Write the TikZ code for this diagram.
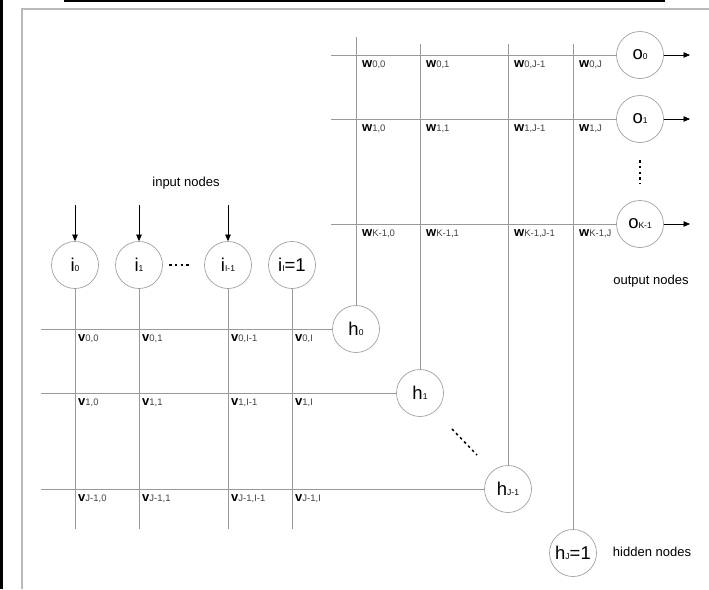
\documentclass[tikz,border=0pt]{standalone}
\usepackage{fontspec}
\setmainfont{Liberation Sans}
\usetikzlibrary{arrows.meta}
\newcommand{\sbx}[1]{{\fontsize{8.5}{8.5}\selectfont\mdseries #1}}
\newcommand{\wsb}[1]{{\fontsize{9.5}{9.5}\selectfont\mdseries\color{black!75}#1}}

\begin{document}
\begin{tikzpicture}[x=1pt, y=-1pt, >={Triangle[length=6.5pt,width=5.5pt]},
  unit/.style={circle, draw=gray!75, line width=0.7pt, minimum size=47pt,
               inner sep=0pt, font=\fontsize{18.5}{18.5}\selectfont},
  wire/.style={draw=gray!80, line width=0.7pt},
  feed/.style={->, draw=black, line width=0.6pt},
  dotln/.style={line width=1.5pt, dash pattern=on 2.6pt off 3.2pt},
  wt/.style={anchor=west, inner sep=0pt, font=\fontsize{13}{13}\selectfont\bfseries},
  lab/.style={font=\fontsize{13}{13}\selectfont}]
\useasboundingbox (0,0) rectangle (709,589);
% page edges
\fill[black] (0,0) rectangle (3,589);
\draw[line width=2pt] (64,1) -- (665,1);
\draw[gray!55, line width=2pt] (22,589) -- (22,9) -- (709,9);

% units
\node[unit] (i0) at (75,265)  {i\sbx{0}};
\node[unit] (i1) at (139,265) {i\sbx{1}};
\node[unit] (iI) at (228,265) {i\sbx{I-1}};
\node[unit] (iB) at (292,265) {i\sbx{I}=1};
\node[unit] (h0) at (356,329) {h\sbx{0}};
\node[unit] (h1) at (420,393) {h\sbx{1}};
\node[unit] (hJ) at (508,489) {h\sbx{J-1}};
\node[unit] (hB) at (573,553) {h\sbx{J}=1};
\node[unit] (o0) at (640,55)  {o\sbx{0}};
\node[unit] (o1) at (640,119) {o\sbx{1}};
\node[unit] (oK) at (640,224) {o\sbx{K-1}};

% input weights v
\foreach \n/\x in {i0/75, i1/139, iI/228}{
  \coordinate (t\n) at (\x,205);
  \draw[feed] (t\n) -- (\n);
}
\foreach \n/\x in {i0/75, i1/139, iI/228, iB/292}{
  \coordinate (b\n) at (\x,529);
  \draw[wire] (\n) -- (b\n);
}
\foreach \r/\y/\h in {0/329/h0, 1/393/h1, J-1/489/hJ}{
  \coordinate (l\h) at (41,\y);
  \draw[wire] (l\h) -- (\h);
  \foreach \c/\x in {0/75, 1/139, I-1/228, I/292}
    \node[wt] at (\x+3,\y+10) {v\wsb{\r,\c}};
}

% hidden weights w
\foreach \n/\x/\t in {h0/356/37, h1/420/44, hJ/508/44, hB/573/44}{
  \coordinate (u\n) at (\x,\t);
  \draw[wire] (\n) -- (u\n);
}
\foreach \r/\y/\o in {0/55/o0, 1/119/o1, K-1/224/oK}{
  \coordinate (l\o) at (331,\y);
  \coordinate (e\o) at (690,\y);
  \draw[wire] (l\o) -- (\o);
  \draw[feed] (\o) -- (e\o);
  \foreach \c/\x in {0/356, 1/420, J-1/508, J/573}
    \node[wt] at (\x+6,\y+10) {w\wsb{\r,\c}};
}

% ellipses
\draw[dotln] (169,265) -- (192,265);
\draw[dotln] (640,160) -- (640,184);
\draw[dotln] (452,429) -- (477,455);

\node[lab] (inlab)  at (186,183) {input nodes};
\node[lab] (outlab) at (651,281) {output nodes};
\node[lab] (hidlab) at (652,552) {hidden nodes};
\end{tikzpicture}
\end{document}
